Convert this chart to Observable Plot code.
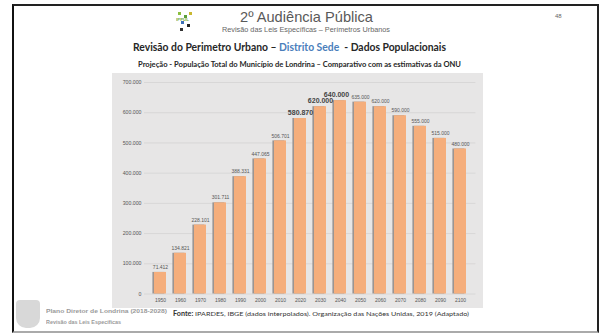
<!DOCTYPE html>
<html>
<head>
<meta charset="utf-8">
<script src="https://cdn.jsdelivr.net/npm/d3@7"></script>
<script src="https://cdn.jsdelivr.net/npm/@observablehq/plot@0.6"></script>
<style>
  html, body { margin:0; padding:0; background:#fff; }
  body { width:599px; height:333px; position:relative; overflow:hidden; font-family:"Liberation Sans", Arial, sans-serif; }
  .t { position:absolute; white-space:nowrap; transform-origin:left center; line-height:1; }
  #frame { position:absolute; left:12px; top:4px; width:583px; height:325px; border-left:2px solid #111; border-top:2px solid #222; border-right:2px solid #222; border-bottom:2px solid #aaa; }
  #chart { position:absolute; left:112px; top:73px; }
</style>
</head>
<body>
<div id="frame"></div>
<div id="chart"></div>
<script>
// ---- data ----
const years = ["1950","1960","1970","1980","1990","2000","2010","2020","2030","2040","2050","2060","2070","2080","2090","2100"];
const population = [71412, 134821, 228101, 301711, 388331, 447065, 506701, 580870, 620000, 640000, 635000, 620000, 590000, 555000, 515000, 480000];
const bigLabelYears = ["2020","2030"];
const peakYear = "2040";
const yTicks = [0, 100000, 200000, 300000, 400000, 500000, 600000, 700000];

const fmt = d => d3.format(",")(d).replace(/,/g, ".");
const data = years.map((y, i) => ({year: y, pop: population[i]}));
const small = data.filter(d => !bigLabelYears.includes(d.year) && d.year !== peakYear);
const big = data.filter(d => bigLabelYears.includes(d.year));
const peak = data.filter(d => d.year === peakYear);

const chart = Plot.plot({
  width: 371, height: 235,
  marginLeft: 32, marginRight: 7.6, marginTop: 9, marginBottom: 14.5,
  style: {background: "#e7e6e6", fontFamily: "'Liberation Sans', Arial, sans-serif", fontSize: "5px", color: "#555"},
  x: {type: "band", domain: years, paddingInner: 0.42, paddingOuter: 0.166, label: null},
  y: {domain: [0, 700000], label: null},
  marks: [
    Plot.gridY(yTicks, {stroke: "#d4d3d3", strokeOpacity: 1, strokeWidth: 0.8}),
    Plot.axisY(yTicks, {tickSize: 0, tickPadding: 3, tickFormat: fmt, fontSize: 5.2, fill: "#555", label: null}),
    Plot.axisX({tickSize: 0, tickPadding: 4, fontSize: 5, fill: "#555", label: null}),
    Plot.barY(data, {x: "year", y: "pop", fill: "#9b9593", dx: -1.6}),
    Plot.barY(data, {x: "year", y: "pop", fill: "#f5ae7c"}),
    Plot.text(small, {x: "year", y: "pop", text: d => fmt(d.pop), dy: -5, fontSize: 5, fill: "#555"}),
    Plot.text(big, {x: "year", y: "pop", text: d => fmt(d.pop), dy: -6, fontSize: 7, fontWeight: "bold", fill: "#444"}),
    Plot.text(peak, {x: "year", y: "pop", text: d => fmt(d.pop), dy: -6, dx: -4, fontSize: 7, fontWeight: "bold", fill: "#444"})
  ]
});
document.getElementById("chart").appendChild(chart);

// ---- slide texts ----
function place(html, x, y, w, css) {
  const el = document.createElement("div");
  el.className = "t";
  el.innerHTML = html;
  Object.assign(el.style, css || {});
  el.style.left = x + "px";
  el.style.top = y + "px";
  document.body.appendChild(el);
  const r = el.getBoundingClientRect();
  el.style.top = (y - r.height / 2) + "px";
  if (w) el.style.transform = "scaleX(" + (w / r.width) + ")";
  return el;
}
place("2º Audiência Pública", 240, 16, 133, {fontSize: "15px", color: "#595959"});
place("Revisão das Leis Específicas – Perímetros Urbanos", 222, 29, 168, {fontSize: "7px", color: "#666"});
place("48", 555, 16, 0, {fontSize: "6px", color: "#666"});
place('Revisão do Perimetro Urbano – <span style="color:#4a7ebb">Distrito Sede</span> &nbsp;- Dados Populacionais', 133, 46, 313,
  {fontSize: "11px", fontWeight: "bold", color: "#262626", fontFamily: "Lato, sans-serif"});
place("Projeção - População Total do Município de Londrina – Comparativo com as estimativas da ONU", 138, 65, 323,
  {fontSize: "7.5px", fontWeight: "bold", color: "#262626", fontFamily: "Lato, sans-serif"});
place('<b>Fonte:</b> IPARDES, IBGE (dados interpolados). Organização das Nações Unidas, 2019 (Adaptado)', 173, 314, 296,
  {fontSize: "6.5px", color: "#333", fontFamily: "Lato, sans-serif"});
place("Plano Diretor de Londrina (2018-2028)", 46, 311, 121, {fontSize: "6px", color: "#9a9a9a", fontWeight: "bold"});
place("Revisão das Leis Específicas", 46, 322, 75, {fontSize: "6px", color: "#9a9a9a", fontWeight: "bold"});

// logo (IPPUL) – small decorative dots
const logo = [[178,12,"#8bbf3f"],[184,15,"#5a9e3a"],[189,12,"#c9b830"],[181,21,"#3b6fb6"],[187,24,"#222"],[180,28,"#333"]];
logo.forEach(([x,y,c]) => {
  const d = document.createElement("div");
  Object.assign(d.style, {position:"absolute", left:x+"px", top:y+"px", width:"3px", height:"3px", background:c});
  document.body.appendChild(d);
});
place("IPPUL", 176, 20, 13, {fontSize: "4px", color: "#7a4", fontWeight: "bold"});

// footer crest placeholder
const crest = document.createElement("div");
Object.assign(crest.style, {position:"absolute", left:"16px", top:"300px", width:"24px", height:"28px", background:"#d8d8d8", borderRadius:"4px 4px 10px 10px"});
document.body.appendChild(crest);
</script>
</body>
</html>
